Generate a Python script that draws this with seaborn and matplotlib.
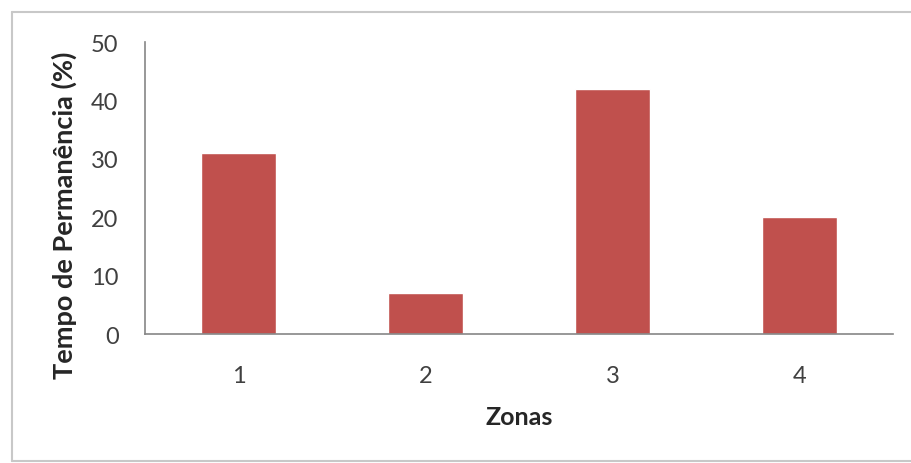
import matplotlib
matplotlib.use('Agg')
import matplotlib.pyplot as plt
import seaborn as sns
import pandas as pd
from matplotlib.lines import Line2D

zonas = ['1', '2', '3', '4']
tempo = [31, 7, 42, 20]

df = pd.DataFrame({'zona': zonas, 'tempo': tempo})

sns.set_style('white')
plt.rcParams['font.family'] = ['Lato', 'DejaVu Sans']

fig = plt.figure(figsize=(9.12, 4.64), dpi=100)
ax = fig.add_axes([0.159, 0.278, 0.82, 0.629])

sns.barplot(data=df, x='zona', y='tempo', color='#C0504D', width=0.4,
            saturation=1, ax=ax)

ax.set_xlim(-0.5, 3.5)
ax.set_ylim(0, 50)
ax.set_yticks(range(0, 51, 10))

# excel-style ticks between categories
ax.set_xticks([-0.5, 0.5, 1.5, 2.5, 3.5], minor=True)
ax.tick_params(axis='x', which='major', length=0, pad=22, labelsize=17, labelcolor='#404040')
ax.tick_params(axis='x', which='minor', length=6, color='#868686', direction='out')
ax.tick_params(axis='y', length=7, color='#868686', direction='out', pad=12,
               labelsize=17, labelcolor='#404040')

for s in ['top', 'right']:
    ax.spines[s].set_visible(False)
for s in ['left', 'bottom']:
    ax.spines[s].set_color('#868686')
    ax.spines[s].set_linewidth(1.2)

ax.set_xlabel('Zonas', fontsize=18, fontweight='bold', labelpad=14)
ax.set_ylabel('Tempo de Permanência (%)', fontsize=19.5, fontweight='bold')
ax.yaxis.set_label_coords(-0.091, 0.41)

# light frame around the chart area
for xs, ys in [([12/912, 12/912], [1-13/464, 1-462/464]),
               ([12/912, 1], [1-13/464, 1-13/464]),
               ([12/912, 1], [1-462/464, 1-462/464])]:
    fig.add_artist(Line2D(xs, ys, transform=fig.transFigure, color='#C8C8C8', lw=1.5))

fig.savefig('out.png', dpi=100)
